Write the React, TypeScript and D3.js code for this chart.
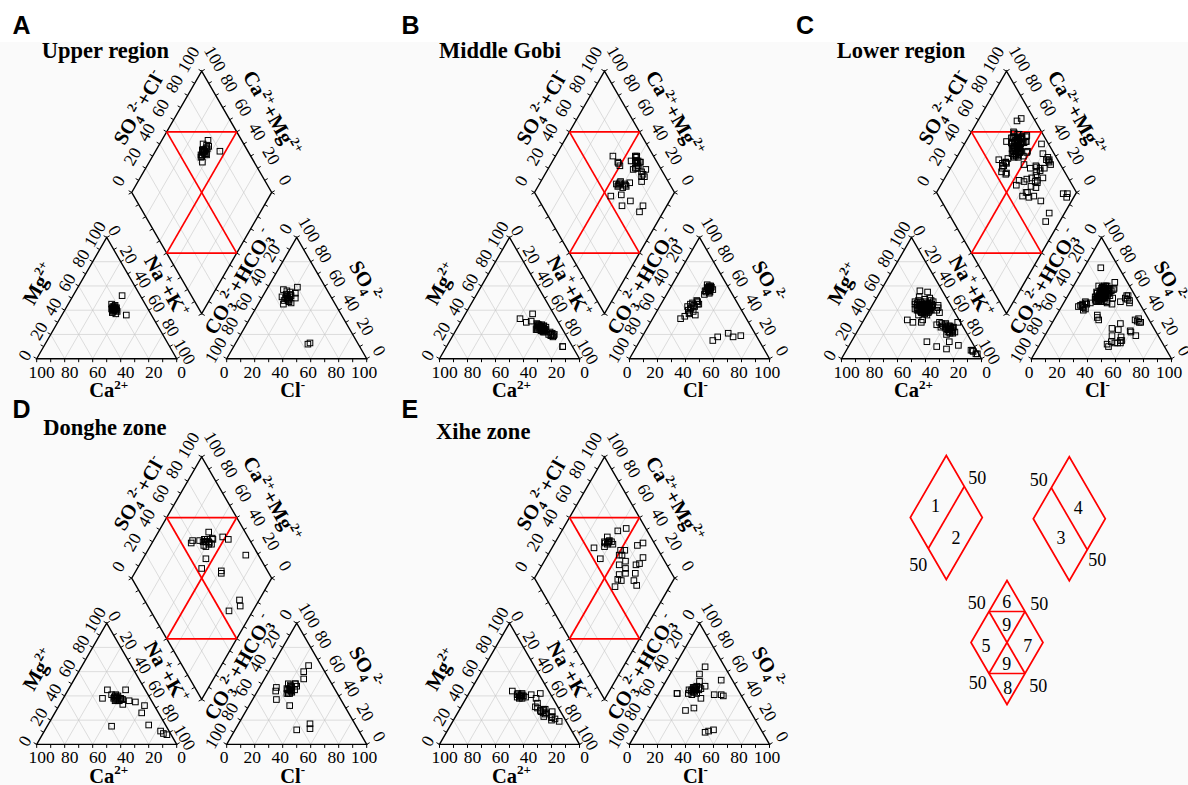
import React from 'react';
import * as d3 from 'd3';

// Each sample: [Ca2+, Mg2+, Cl-, SO4 2-] in % meq/L ; Na+K = 100-Ca-Mg ; HCO3+CO3 = 100-Cl-SO4
const upperRegion: number[][] = [
  [24,42,18,50],[25,40,19,52],[23,43,17,48],[26,39,20,49],[24,41,16,53],[22,44,18,55],[25,42,21,47],
  [27,38,14,51],[23,40,23,46],[24,45,15,56],[26,41,22,54],[22,42,24,50],[25,37,18,45],[23,39,12,57],
  [13,52,18,50],[18,36,21,59],[24,41,52,12],[25,40,53,13],[24,43,19,49],[23,41,20,52],
  [25,41,17,50],[24,40,20,48],[23,42,19,53],[26,40,18,51]
];
const middleGobi: number[][] = [
  [15,26,28,57],[14,27,27,58],[16,25,29,56],[13,28,26,59],[15,24,30,55],[17,26,27,60],[14,23,28,57],
  [12,27,29,58],[16,28,26,56],[13,25,27,55],[15,22,31,57],[18,24,28,59],[14,26,25,61],[12,24,30,54],
  [16,23,27,53],[11,26,28,60],
  [16,27,23,42],[14,25,24,44],[17,26,22,40],[13,24,25,43],[15,28,21,45],[18,25,23,41],[12,27,26,39],
  [15,23,22,46],[16,29,24,38],[14,22,25,47],[19,24,20,43],
  [26,33,26,45],[23,30,25,47],[15,37,27,45],[19,31,24,48],
  [16,28,20,33],[12,20,22,35],[10,18,29,36],[14,23,24,37],
  [7,10,54,18],[7,10,52,15],[9,19,60,21],[10,20,65,18],[11,19,70,19],
  [8,20,28,57],[9,21,27,58],[10,22,29,56],[14,25,28,58],[13,24,27,56],[15,27,29,59]
];
const lowerRegion: number[][] = [
  [22,43,23,54],[20,45,22,56],[24,41,24,52],[19,44,25,55],[21,42,21,58],[23,46,23,53],[18,43,26,57],
  [22,40,22,50],[20,47,24,55],[25,42,20,54],[17,45,27,56],[21,44,23,60],[23,38,25,51],[19,41,22,59],
  [24,44,21,56],[20,39,24,53],[16,46,26,58],[22,45,22,52],[26,40,19,55],[18,42,28,54],[21,48,23,57],
  [21,43,24,57],[19,40,21,49],[18,44,24,58],[25,45,22,58],[17,40,24,52],[22,37,27,55],[24,47,20,51],
  [16,56,12,75],[11,55,24,58],[19,51,28,63],[12,50,27,56],[27,41,18,60],[21,36,26,50],[11,47,26,57],
  [16,49,21,59],[15,44,30,58],[24,39,23,57],
  [18,42,24,52],[20,41,23,50],[17,44,25,51],[19,43,22,53],[21,40,26,52],[16,43,24,49],[18,45,23,51],
  [20,42,27,50],[15,44,25,53],[19,40,24,48],[17,41,22,50],[21,43,25,49],[18,39,26,51],[16,42,23,54],
  [20,44,21,51],[14,46,26,52],[19,38,24,50],[17,43,28,53],[22,41,24,48],[15,42,27,50],[18,44,22,48],
  [13,45,24,51],[20,40,25,55],[16,40,26,47],[19,45,27,52],[12,48,26,54],[14,43,29,56],[17,47,25,55],
  [21,39,23,47],[18,41,30,57],[10,42,26,55],[9,44,25,52],[12,40,28,54],[11,38,24,50],
  [17,45,24,60],[19,43,22,60],[13,44,27,58],
  [37,32,15,43],[34,30,14,44],[28,30,16,42],[26,32,17,40],[22,41,14,45],[24,38,16,46],[20,43,13,44],
  [25,40,18,41],[21,42,19,46],[23,39,12,43],[19,44,15,47],[27,36,17,45],
  [12,28,42,50],[10,25,46,48],[15,30,43,52],[8,22,47,46],[2,30,44,49],[9,24,60,33],[13,22,62,30],
  [13,26,30,52],[11,24,33,50],[9,23,28,48],[14,29,31,46],[12,22,26,49],[10,27,35,45],[8,25,30,47],
  [12,24,30,34],[10,22,32,32],[9,26,29,36],
  [14,27,45,25],[12,24,49,29],[16,26,48,19],[10,21,55,18],[18,28,50,14],[11,29,59,23],[15,20,57,13],
  [9,27,65,19],[13,25,50,24],
  [32,14,48,12],[27,10,50,10],[21,8,55,13],[16,14,60,22],[11,11,56,15],[3,7,53,13],[4,7,57,15],
  [1,4,60,31],[2,4,63,30],[3,6,58,32],
  [7,26,42,52],[12,21,40,47]
];
const dongheZone: number[][] = [
  [24,38,23,45],[23,39,22,46],[25,37,24,44],[22,40,23,47],[24,36,21,45],[26,38,25,43],[21,38,22,48],
  [23,41,24,44],[25,39,20,46],[20,37,26,45],[26,36,23,42],[22,38,21,49],[34,38,12,47],[27,45,13,44],
  [14,45,24,50],[12,35,25,60],[22,33,29,32],[39,15,17,37],[12,26,24,42],[7,32,22,45],[12,16,26,65],
  [6,11,44,12],[5,9,51,17],[3,8,53,13],[21,37,24,50],[26,41,22,42],[23,36,19,50],[24,40,26,48],
  [16,36,28,54]
];
const xiheZone: number[][] = [
  [23,39,24,44],[22,40,23,46],[24,38,25,43],[21,41,22,45],[23,40,21,42],[25,39,24,41],[22,38,23,47],
  [26,44,13,42],[20,42,22,44],[24,41,20,45],[14,41,22,64],[20,40,21,58],
  [7,42,24,46],[12,38,26,47],[16,31,24,48],[14,28,27,45],[11,26,39,53],[8,23,45,41],[7,21,25,45],
  [5,19,32,38],[14,23,31,30],[13,26,26,28],[10,20,28,46],[9,22,40,41],[6,27,30,48],[12,25,24,43],
  [10,29,27,42],[13,34,24,52],[12,28,47,40],[11,29,49,10],[15,30,54,12],[14,27,51,11],[21,40,13,42],
  [23,42,22,47],[19,39,25,45]
];

const panelLetters = ['A', 'B', 'C', 'D', 'E'];
const panelTitles = ['Upper region', 'Middle Gobi', 'Lower region', 'Donghe zone', 'Xihe zone'];
const tickValues = [0, 20, 40, 60, 80, 100];
const gridValues = [20, 40, 60, 80];
const minorTicks = d3.range(0, 101, 10);

const SERIF = '"Liberation Serif","Times New Roman",serif';
const SANS = '"Liberation Sans",Arial,sans-serif';
const RED = '#ff0000';
const TICK_FS = 17.5;
const TITLE_FS = 20.5;

const S = 140;
const H = (S * Math.sqrt(3)) / 2;
const GAP = 50;
const LIFT = 45;
const pct = d3.scaleLinear().domain([0, 100]).range([0, 1]);
const line = d3.line();

const layout = [
  { cx: 201.7, base: 358.7, lx: 12.5, ly: 34.3, tx: 41.7, ty: 58 },
  { cx: 604.5, base: 358.7, lx: 401.5, ly: 34.3, tx: 439, ty: 58 },
  { cx: 1006.5, base: 358.7, lx: 796, ly: 34.3, tx: 836.7, ty: 58 },
  { cx: 201.7, base: 744.4, lx: 12.5, ly: 417.5, tx: 43.3, ty: 435 },
  { cx: 604.5, base: 744.4, lx: 401.5, ly: 417.5, tx: 436, ty: 439 },
];

type Pt = [number, number];
type Part = [string, number];

function Rich({ x, y, rot = 0, parts, size }: { x: number; y: number; rot?: number; parts: Part[]; size: number }) {
  let cur = 0;
  const spans = parts.map(([t, k], i) => {
    const target = k === 1 ? -0.42 * size : k === -1 ? 0.22 * size : 0;
    const dy = target - cur;
    cur = target;
    return (
      <tspan key={i} dy={dy} fontSize={k === 0 ? size : size * 0.64}>
        {t}
      </tspan>
    );
  });
  return (
    <text
      transform={`translate(${x},${y}) rotate(${rot})`}
      y={0.35 * size}
      textAnchor="middle"
      fontFamily={SERIF}
      fontWeight="bold"
      fontSize={size}
    >
      {spans}
    </text>
  );
}

const c30 = Math.sqrt(3) / 2;
const NL: Pt = [-c30, -0.5];
const NR: Pt = [c30, -0.5];
const NLL: Pt = [-c30, 0.5];
const NLR: Pt = [c30, 0.5];
const ND: Pt = [0, 1];

function along(P: Pt, Q: Pt, t: number): Pt {
  return [P[0] + (Q[0] - P[0]) * t, P[1] + (Q[1] - P[1]) * t];
}
function unit(P: Pt, Q: Pt): Pt {
  const dx = Q[0] - P[0], dy = Q[1] - P[1];
  const l = Math.hypot(dx, dy);
  return [dx / l, dy / l];
}

function Piper({ g, data, letter, title }: any) {
  const { cx, base } = g;
  const X0 = cx - GAP / 2 - S;
  const X0r = cx + GAP / 2;
  const Lx = cx - S / 2;
  const Ly = base - LIFT - H;
  const catXY = (n: number, mg: number): Pt => [X0 + S * (pct(n) + pct(mg) / 2), base - H * pct(mg)];
  const anXY = (cl: number, so4: number): Pt => [X0r + S * (pct(cl) + pct(so4) / 2), base - H * pct(so4)];
  const diaXY = (nk: number, sc: number): Pt => [Lx + (S / 2) * (pct(nk) + pct(sc)), Ly + H * (pct(nk) - pct(sc))];

  const grid: Pt[][] = [];
  gridValues.forEach((k) => {
    grid.push([catXY(0, k), catXY(100 - k, k)], [catXY(k, 0), catXY(k, 100 - k)], [catXY(100 - k, 0), catXY(0, 100 - k)]);
    grid.push([anXY(0, k), anXY(100 - k, k)], [anXY(k, 0), anXY(k, 100 - k)], [anXY(100 - k, 0), anXY(0, 100 - k)]);
    grid.push([diaXY(k, 0), diaXY(k, 100)], [diaXY(0, k), diaXY(100, k)]);
  });

  const edges: any[] = [
    { P: catXY(0, 0), Q: catXY(100, 0), N: ND, lab: (k: number) => 100 - k, a: 13, b: 5, rot: 0 },
    { P: catXY(0, 0), Q: catXY(0, 100), N: NL, lab: (k: number) => k, a: 12, b: -3, rot: -60 },
    { P: catXY(0, 100), Q: catXY(100, 0), N: NR, lab: (k: number) => k, a: 10.5, b: -2, rot: 60 },
    { P: anXY(0, 0), Q: anXY(100, 0), N: ND, lab: (k: number) => k, a: 13, b: -2.5, rot: 0 },
    { P: anXY(0, 0), Q: anXY(0, 100), N: NL, lab: (k: number) => 100 - k, a: 14, b: 2, rot: -60 },
    { P: anXY(0, 100), Q: anXY(100, 0), N: NR, lab: (k: number) => 100 - k, a: 15, b: -0.5, rot: 60 },
    { P: diaXY(0, 0), Q: diaXY(0, 100), N: NL, lab: (k: number) => k, a: 17.5, b: 3.5, rot: -60 },
    { P: diaXY(0, 100), Q: diaXY(100, 100), N: NR, lab: (k: number) => 100 - k, a: 18, b: -4, rot: 60 },
    { P: diaXY(0, 0), Q: diaXY(100, 0), N: NLL, lab: null },
    { P: diaXY(100, 0), Q: diaXY(100, 100), N: NLR, lab: null },
  ];

  const titles: { e: number; t: number; a: number; parts: Part[] }[] = [
    { e: 1, t: 0.47, a: 36, parts: [['Mg', 0], ['2+', 1]] },
    { e: 2, t: 0.515, a: 27.5, parts: [['Na', 0], ['+', 1], ['+K', 0], ['+', 1]] },
    { e: 4, t: 0.52, a: 28.5, parts: [['CO', 0], ['3', -1], ['2-', 1], ['+HCO', 0], ['3', -1], ['-', 1]] },
    { e: 5, t: 0.52, a: 38, parts: [['SO', 0], ['4', -1], ['2-', 1]] },
    { e: 6, t: 0.55, a: 36.5, parts: [['SO', 0], ['4', -1], ['2-', 1], ['+Cl', 0], ['-', 1]] },
    { e: 7, t: 0.51, a: 40, parts: [['Ca', 0], ['2+', 1], ['+Mg', 0], ['2+', 1]] },
  ];

  const red: Pt[][] = [
    [diaXY(0, 50), diaXY(50, 100)],
    [diaXY(50, 0), diaXY(100, 50)],
    [diaXY(0, 50), diaXY(100, 50)],
    [diaXY(50, 100), diaXY(50, 0)],
  ];

  const pts: Pt[] = [];
  data.forEach(([ca, mg, cl, so4]: number[]) => {
    const nk = 100 - ca - mg;
    pts.push(catXY(nk, mg), anXY(cl, so4), diaXY(nk, cl + so4));
  });

  const SQ = 5.6;

  return (
    <g>
      <text x={g.lx} y={g.ly} fontFamily={SANS} fontWeight="bold" fontSize={25}>
        {letter}
      </text>
      <text x={g.tx} y={g.ty} fontFamily={SERIF} fontWeight="bold" fontSize={22.5}>
        {title}
      </text>
      {grid.map((seg, i) => (
        <path key={'g' + i} d={line(seg) as string} stroke="#c8c8c8" strokeWidth={0.6} fill="none" />
      ))}
      {edges.map((e, i) => {
        const D = unit(e.P, e.Q);
        return (
          <g key={'e' + i}>
            {minorTicks.map((k) => {
              const p = along(e.P, e.Q, k / 100);
              return (
                <path
                  key={k}
                  d={line([p, [p[0] + 3.5 * e.N[0], p[1] + 3.5 * e.N[1]]]) as string}
                  stroke="#000"
                  strokeWidth={1}
                />
              );
            })}
            {e.lab &&
              tickValues.map((k) => {
                const p = along(e.P, e.Q, k / 100);
                const x = p[0] + e.a * e.N[0] + e.b * D[0];
                const y = p[1] + e.a * e.N[1] + e.b * D[1];
                return (
                  <text
                    key={'l' + k}
                    transform={`translate(${x},${y}) rotate(${e.rot})`}
                    y={0.34 * TICK_FS}
                    textAnchor="middle"
                    fontFamily={SERIF}
                    fontSize={TICK_FS}
                  >
                    {e.lab(k)}
                  </text>
                );
              })}
          </g>
        );
      })}
      <path d={(line([catXY(0, 0), catXY(100, 0), catXY(0, 100)]) as string) + 'Z'} fill="none" stroke="#000" strokeWidth={1.4} />
      <path d={(line([anXY(0, 0), anXY(100, 0), anXY(0, 100)]) as string) + 'Z'} fill="none" stroke="#000" strokeWidth={1.4} />
      <path
        d={(line([diaXY(0, 0), diaXY(100, 0), diaXY(100, 100), diaXY(0, 100)]) as string) + 'Z'}
        fill="none"
        stroke="#000"
        strokeWidth={1.4}
      />
      {red.map((seg, i) => (
        <path key={'r' + i} d={line(seg) as string} stroke={RED} strokeWidth={1.7} fill="none" />
      ))}
      {titles.map((tt, i) => {
        const e = edges[tt.e];
        const p = along(e.P, e.Q, tt.t);
        return <Rich key={'t' + i} x={p[0] + tt.a * e.N[0]} y={p[1] + tt.a * e.N[1]} rot={e.rot} parts={tt.parts} size={TITLE_FS} />;
      })}
      <Rich x={X0 + S / 2 + 2} y={base + 31.5} parts={[['Ca', 0], ['2+', 1]]} size={TITLE_FS} />
      <Rich x={X0r + S / 2 - 4} y={base + 31.5} parts={[['Cl', 0], ['-', 1]]} size={TITLE_FS} />
      {pts.map((p, i) => (
        <rect key={'p' + i} x={p[0] - SQ / 2} y={p[1] - SQ / 2} width={SQ} height={SQ} fill="none" stroke="#000" strokeWidth={1} />
      ))}
    </g>
  );
}

function Legend() {
  const hw = 36, hh = 62;
  const mk = (cx: number, cy: number) => (u: number, v: number): Pt => [cx - hw + hw * (u + v), cy + hh * (u - v)];
  const d1 = mk(946.3, 517.5), d2 = mk(1069.3, 518.8), d3 = mk(1007, 642.5);
  const outline = (f: any) => (line([f(0, 0), f(1, 0), f(1, 1), f(0, 1)]) as string) + 'Z';
  const segs: Pt[][] = [
    [d1(0.5, 0), d1(0.5, 1)],
    [d2(0, 0.5), d2(1, 0.5)],
    [d3(0, 0.5), d3(0.5, 1)],
    [d3(0.5, 0), d3(1, 0.5)],
    [d3(0, 0.5), d3(1, 0.5)],
    [d3(0.5, 1), d3(0.5, 0)],
  ];
  const labels: [string, number, number][] = [
    ['1', 935.5, 506], ['2', 956, 538.3], ['50', 977.3, 478.3], ['50', 918.3, 565],
    ['4', 1078.3, 508.3], ['3', 1061, 537.7], ['50', 1038.7, 480], ['50', 1097.3, 560],
    ['6', 1006.7, 601.7], ['9', 1006.7, 625], ['5', 986, 645.7], ['7', 1027.7, 645.7], ['9', 1006.7, 664], ['8', 1007.7, 687.7],
    ['50', 976.7, 602.7], ['50', 1039.3, 604], ['50', 977.7, 682.7], ['50', 1038.3, 686],
  ];
  return (
    <g>
      {[d1, d2, d3].map((f, i) => (
        <path key={i} d={outline(f)} fill="none" stroke={RED} strokeWidth={1.7} />
      ))}
      {segs.map((s, i) => (
        <path key={'s' + i} d={line(s) as string} fill="none" stroke={RED} strokeWidth={1.7} />
      ))}
      {labels.map(([t, x, y], i) => (
        <text key={'t' + i} x={x} y={y + 6} textAnchor="middle" fontFamily={SERIF} fontSize={18}>
          {t}
        </text>
      ))}
    </g>
  );
}

export default function App() {
  const datasets = [upperRegion, middleGobi, lowerRegion, dongheZone, xiheZone];
  return (
    <svg width={1188} height={785} style={{ position: 'absolute', left: 0, top: 0 }}>
      <rect x={0} y={0} width={1188} height={785} fill="#fafafa" />
      <rect x={0} y={0} width={1188} height={42} fill="#ffffff" />
      {layout.map((g, i) => (
        <Piper key={i} g={g} data={datasets[i]} letter={panelLetters[i]} title={panelTitles[i]} />
      ))}
      <Legend />
    </svg>
  );
}
